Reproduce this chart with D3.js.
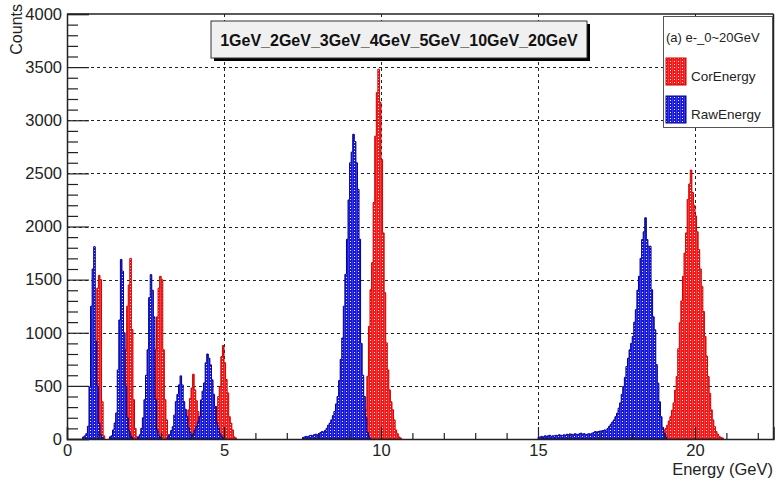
<!DOCTYPE html>
<html>
<head>
<meta charset="utf-8">
<script src="https://cdn.jsdelivr.net/npm/d3@7/dist/d3.min.js"></script>
<style>
  html, body { margin: 0; padding: 0; background: #fff; }
  svg { display: block; font-family: "Liberation Sans", Arial, Helvetica, sans-serif; }
</style>
</head>
<body>
<svg id="chart" width="777" height="483"></svg>
<script>
// ---------------- data ----------------
const binWidth = 0.05; // GeV
const titleText = "1GeV_2GeV_3GeV_4GeV_5GeV_10GeV_20GeV";
const legendHeader = "(a) e-_0~20GeV";
const seriesNames = ["CorEnergy", "RawEnergy"];
const xTicks = [0, 5, 10, 15, 20];
const yTicks = [0, 500, 1000, 1500, 2000, 2500, 3000, 3500, 4000];

// CorEnergy (red): start energy of each peak and its bin counts
const corStarts = [0.80, 1.70, 2.65, 3.65, 4.55, 9.25, 18.75];
const corCounts = [
  [30, 150, 840, 1420, 1540, 1500, 350, 30],
  [20, 100, 430, 840, 1250, 1450, 1700, 1030, 370, 100, 20],
  [30, 100, 370, 840, 1150, 1420, 1531, 1500, 840, 370, 180, 40, 15],
  [20, 60, 100, 163, 274, 380, 480, 610, 462, 360, 258, 150, 60, 30, 15],
  [20, 50, 100, 150, 305, 400, 494, 776, 880, 717, 560, 434, 210, 150, 85, 20, 10],
  [15, 25, 50, 100, 180, 275, 590, 1060, 1405, 1660, 2226, 2850, 3260, 3481, 3170, 2630, 1940, 1377, 905, 650, 462, 350, 275, 180, 85, 50, 20, 10],
  [10, 20, 30, 45, 60, 85, 100, 130, 170, 210, 270, 340, 460, 588, 850, 1094, 1300, 1531, 1750, 1940, 2255, 2400, 2531,
   2320, 2200, 2100, 1950, 1783, 1600, 1437, 1200, 965, 780, 588, 430, 274, 180, 116, 70, 45, 25, 15, 10]
];

// RawEnergy (blue)
const rawStarts = [0.50, 1.35, 2.25, 3.20, 3.95, 7.50, 15.00];
const rawCounts = [
  [20, 30, 50, 120, 490, 1250, 1600, 1810, 920, 500, 150, 40, 15],
  [20, 30, 85, 150, 245, 650, 1120, 1690, 1580, 1000, 500, 200, 80, 30, 15],
  [20, 40, 100, 200, 370, 600, 840, 1330, 1547, 1400, 1150, 370, 85, 30, 15],
  [20, 40, 80, 116, 226, 352, 420, 509, 594, 509, 352, 280, 210, 104, 60, 30, 15],
  [30, 40, 80, 116, 160, 210, 368, 450, 528, 717, 800, 760, 698, 557, 420, 305, 150, 100, 50, 25, 10],
  [15, 20, 25, 20, 30, 35, 30, 40, 45, 38, 50, 60, 70, 65, 80, 100, 130, 150,
   180, 220, 260, 330, 400, 550, 750, 950, 1250, 1550, 1880, 2250, 2600, 2700, 2868, 2800, 2600, 2350, 1880, 900, 600, 400, 200, 60, 20],
  [15, 20, 25, 20, 30, 25, 30, 35, 25, 30, 30, 35, 30, 40, 35, 30, 40, 35, 45, 40, 40, 45, 38, 50, 45, 40, 50, 55, 45, 50,
   40, 45, 50, 45, 55, 60, 70, 65, 70, 75,
   75, 80, 85, 85, 100, 120, 140, 160, 180, 210, 242, 290, 340, 420, 494, 580, 682, 760, 840, 900,
   965, 1100, 1217, 1400, 1531, 1700, 1877, 1950, 2082, 1877, 1814, 1814, 1405, 1150, 1028, 700, 525, 350, 210, 110, 55, 20]
];

// ---------------- layout ----------------
const m = { left: 67, right: 773.5, top: 14, bottom: 439 };
const svg = d3.select("#chart");

const x = d3.scaleLinear().domain([0, 22.5]).range([m.left, m.right]);
const y = d3.scaleLinear().domain([0, 4000]).range([m.bottom, m.top]);

// fill patterns (solid colour with white dotted columns)
const defs = svg.append("defs");
function makePattern(id, color) {
  const p = defs.append("pattern").attr("id", id).attr("patternUnits", "userSpaceOnUse")
    .attr("width", 4).attr("height", 3);
  p.append("rect").attr("width", 4).attr("height", 3).attr("fill", color);
  p.append("rect").attr("x", 2).attr("y", 1).attr("width", 1).attr("height", 1).attr("fill", "#ffffff").attr("opacity", 0.95);
  p.append("rect").attr("x", 0).attr("y", 0).attr("width", 1).attr("height", 3).attr("fill", "#ffffff").attr("opacity", 0.15);
}
makePattern("patRed", "#f01818");
makePattern("patBlue", "#1818d8");

// grid
const grid = svg.append("g").attr("stroke", "#222").attr("stroke-width", 1).attr("stroke-dasharray", "3,3");
yTicks.filter(v => v > 0 && v < 4000).forEach(v => {
  grid.append("line").attr("x1", m.left).attr("x2", m.right).attr("y1", Math.round(y(v)) + 0.5).attr("y2", Math.round(y(v)) + 0.5);
});
xTicks.filter(v => v > 0).forEach(v => {
  grid.append("line").attr("y1", m.top).attr("y2", m.bottom).attr("x1", Math.round(x(v)) + 0.5).attr("x2", Math.round(x(v)) + 0.5);
});

// histograms
function drawHist(starts, counts, fill, stroke) {
  const g = svg.append("g");
  starts.forEach((s, i) => {
    const c = counts[i];
    const pts = [[s, 0]];
    c.forEach((n, k) => {
      const e0 = s + k * binWidth, e1 = s + (k + 1) * binWidth;
      pts.push([e0, n]); pts.push([e1, n]);
    });
    pts.push([s + c.length * binWidth, 0]);
    const line = d3.line().x(d => x(d[0])).y(d => y(d[1]));
    g.append("path").attr("d", line(pts) + "Z")
      .attr("fill", fill).attr("stroke", stroke).attr("stroke-width", 1).attr("stroke-linejoin", "miter");
  });
}
drawHist(corStarts, corCounts, "url(#patRed)", "#d00000");
drawHist(rawStarts, rawCounts, "url(#patBlue)", "#000090");

// axes
const axisColor = "#222";
const yMajor = d3.axisLeft(y).tickValues(yTicks).tickSize(-22).tickPadding(5).tickFormat(d3.format("d"));
svg.append("g").attr("transform", `translate(${m.left},0)`).call(yMajor);
const yMinor = d3.axisLeft(y).tickValues(d3.range(0, 4001, 100).filter(v => v % 500 !== 0)).tickSize(-11).tickFormat("");
svg.append("g").attr("transform", `translate(${m.left},0)`).call(yMinor).select(".domain").remove();

const xMajor = d3.axisBottom(x).tickValues(xTicks).tickSize(-12).tickPadding(5).tickFormat(d3.format("d"));
svg.append("g").attr("transform", `translate(0,${m.bottom})`).call(xMajor);
const xMinor = d3.axisBottom(x).tickValues(d3.range(0, 23, 1).filter(v => v % 5 !== 0)).tickSize(-6).tickFormat("");
svg.append("g").attr("transform", `translate(0,${m.bottom})`).call(xMinor).select(".domain").remove();

svg.selectAll(".tick line").attr("stroke", axisColor).attr("stroke-width", 1.2);
svg.selectAll(".domain").attr("stroke", axisColor).attr("stroke-width", 1.5);
svg.selectAll(".tick text").attr("font-size", 16.5).attr("fill", "#222").attr("font-family", "Liberation Sans, Arial, sans-serif");

// frame top / right
svg.append("line").attr("x1", m.left).attr("x2", m.right).attr("y1", m.top).attr("y2", m.top).attr("stroke", axisColor).attr("stroke-width", 1.5);
svg.append("line").attr("x1", m.right).attr("x2", m.right).attr("y1", m.top).attr("y2", m.bottom).attr("stroke", axisColor).attr("stroke-width", 1.5);

// axis titles
svg.append("text").attr("x", 773).attr("y", 475).attr("text-anchor", "end")
  .attr("font-size", 16.5).attr("fill", "#222").text("Energy (GeV)");
svg.append("text").attr("transform", "translate(21.5,4) rotate(-90)").attr("text-anchor", "end")
  .attr("font-size", 16).attr("fill", "#222").text("Counts");

// title box
const tb = { x: 211, y: 21, w: 376, h: 37 };
svg.append("rect").attr("x", tb.x + 3).attr("y", tb.y + 3).attr("width", tb.w).attr("height", tb.h).attr("fill", "#000");
svg.append("rect").attr("x", tb.x).attr("y", tb.y).attr("width", tb.w).attr("height", tb.h)
  .attr("fill", "#f0f0f0").attr("stroke", "#333").attr("stroke-width", 1);
svg.append("text").attr("x", tb.x + tb.w / 2).attr("y", tb.y + tb.h / 2 + 6).attr("text-anchor", "middle")
  .attr("font-size", 16).attr("font-weight", "bold").attr("fill", "#111").text(titleText);

// legend
const lg = { x: 663, y: 16, w: 109, h: 111 };
svg.append("rect").attr("x", lg.x + 0.5).attr("y", lg.y + 0.5).attr("width", lg.w).attr("height", lg.h)
  .attr("fill", "#fff").attr("stroke", "#555").attr("stroke-width", 1);
svg.append("text").attr("x", 666).attr("y", 42).attr("font-size", 13).attr("fill", "#222").text(legendHeader);
const swatches = [
  { name: seriesNames[0], fill: "url(#patRed)", stroke: "#d00000", y: 58 },
  { name: seriesNames[1], fill: "url(#patBlue)", stroke: "#000090", y: 96 }
];
swatches.forEach(s => {
  svg.append("rect").attr("x", 666).attr("y", s.y).attr("width", 20).attr("height", 27)
    .attr("fill", s.fill).attr("stroke", s.stroke).attr("stroke-width", 1);
  svg.append("text").attr("x", 691).attr("y", s.y + 23).attr("font-size", 13.5).attr("fill", "#222").text(s.name);
});
</script>
</body>
</html>
